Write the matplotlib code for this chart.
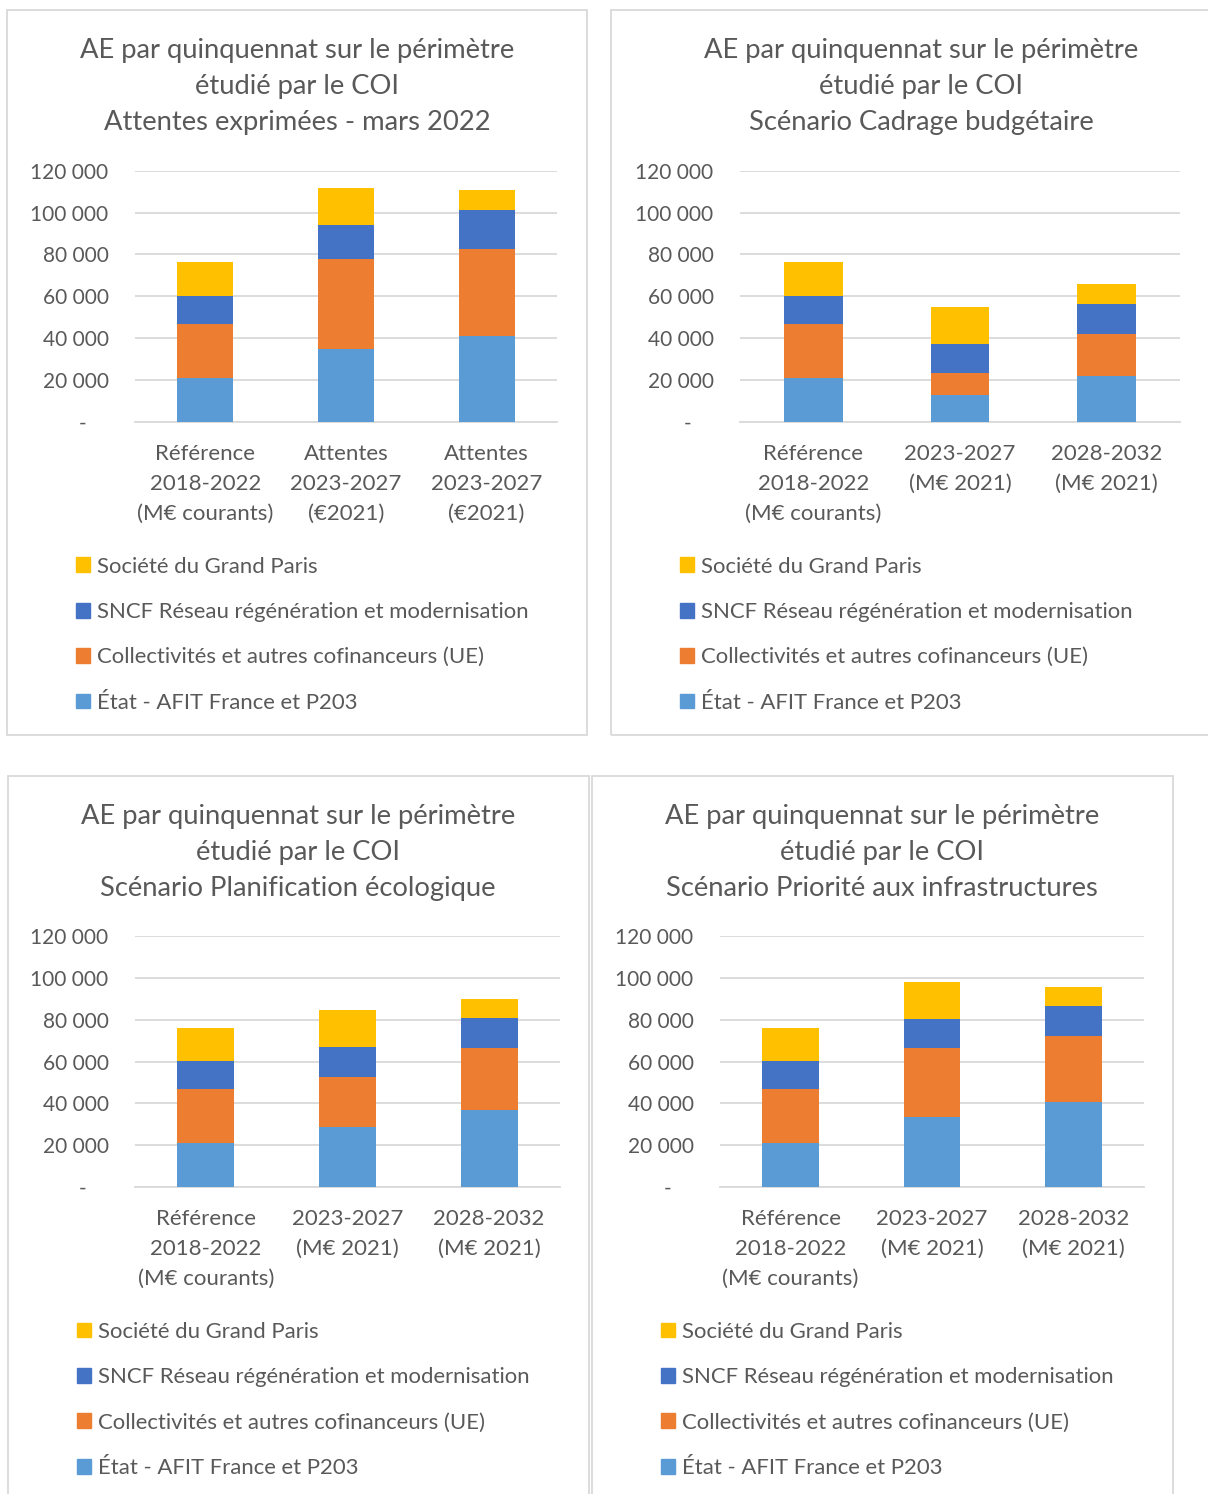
import matplotlib.pyplot as plt
from matplotlib.patches import Patch, Rectangle

plt.rcParams["font.family"] = ["Lato", "DejaVu Sans"]

W, H = 1208, 1494
TEXT = "#595959"
GRID = "#D9D9D9"

series = [
    "État - AFIT France et P203",
    "Collectivités et autres cofinanceurs (UE)",
    "SNCF Réseau régénération et modernisation",
    "Société du Grand Paris",
]
colors = ["#5B9BD5", "#ED7D31", "#4472C4", "#FFC000"]

title_head = "AE par quinquennat sur le périmètre\nétudié par le COI\n"
titles = [
    "Attentes exprimées - mars 2022",
    "Scénario Cadrage budgétaire",
    "Scénario Planification écologique",
    "Scénario Priorité aux infrastructures",
]

cats_attentes = ["Référence\n2018-2022\n(M€ courants)", "Attentes\n2023-2027\n(€2021)", "Attentes\n2023-2027\n(€2021)"]
cats_scen = ["Référence\n2018-2022\n(M€ courants)", "2023-2027\n(M€ 2021)", "2028-2032\n(M€ 2021)"]

# values (M€) per series: Etat, Collectivites, SNCF, SGP
attentes_etat = [21000, 34700, 41000]
attentes_coll = [25700, 43100, 41400]
attentes_sncf = [13500, 16400, 19000]
attentes_sgp = [16000, 17500, 9500]

cadrage_etat = [21000, 12600, 22000]
cadrage_coll = [25700, 10700, 19900]
cadrage_sncf = [13500, 14000, 14200]
cadrage_sgp = [16000, 17400, 9600]

planif_etat = [21000, 28700, 36800]
planif_coll = [25700, 24000, 29700]
planif_sncf = [13500, 14200, 14100]
planif_sgp = [16000, 17500, 9500]

infra_etat = [21000, 33600, 40800]
infra_coll = [25700, 32800, 31500]
infra_sncf = [13500, 14000, 14000]
infra_sgp = [16000, 17400, 9500]

yticks = [0, 20000, 40000, 60000, 80000, 100000, 120000]

charts = [
    dict(title=titles[0], cats=cats_attentes,
         data=[attentes_etat, attentes_coll, attentes_sncf, attentes_sgp],
         box=(7, 10, 587, 735), ax=(135, 557), top=170.7, cx=297),
    dict(title=titles[1], cats=cats_scen,
         data=[cadrage_etat, cadrage_coll, cadrage_sncf, cadrage_sgp],
         box=(611, 10, 1240, 735), ax=(740, 1180), top=170.7, cx=921),
    dict(title=titles[2], cats=cats_scen,
         data=[planif_etat, planif_coll, planif_sncf, planif_sgp],
         box=(8, 776, 589, 1520), ax=(135, 560), top=936, cx=298),
    dict(title=titles[3], cats=cats_scen,
         data=[infra_etat, infra_coll, infra_sncf, infra_sgp],
         box=(592, 776, 1173, 1520), ax=(720, 1144), top=936, cx=882),
]

fig = plt.figure(figsize=(W / 100, H / 100), dpi=100)


def fx(x):
    return x / W


def fy(y):
    return 1 - y / H


for c in charts:
    x0, y0, x1, y1 = c["box"]
    fig.patches.append(Rectangle((fx(x0), fy(y1)), fx(x1 - x0), (y1 - y0) / H,
                                 transform=fig.transFigure, fill=False,
                                 edgecolor=GRID, linewidth=1.3))
    fig.text(fx(c["cx"]), fy(y0 + 28), title_head + c["title"], ha="center", va="top",
             fontsize=19.7, color=TEXT, linespacing=1.545)

    top = c["top"]
    bottom = top + 251
    ax = fig.add_axes([fx(c["ax"][0]), fy(bottom), fx(c["ax"][1] - c["ax"][0]), (bottom - top) / H])
    xs = range(len(c["cats"]))
    base = [0, 0, 0]
    for vals, col, name in zip(c["data"], colors, series):
        ax.bar(xs, vals, width=0.4, bottom=base, color=col, label=name, zorder=3)
        base = [b + v for b, v in zip(base, vals)]

    ax.set_xlim(-0.5, 2.5)
    ax.set_ylim(0, 120000)
    ax.set_yticks(yticks)
    ax.set_yticklabels([f"{v:,.0f}".replace(",", " ") if v else "-    " for v in yticks])
    ax.set_xticks(list(xs))
    ax.set_xticklabels(c["cats"], linespacing=1.61, fontsize=16)
    ax.grid(axis="y", color=GRID, linewidth=1.3, zorder=0)
    ax.tick_params(length=0, colors=TEXT)
    ax.tick_params(axis="y", pad=19, labelsize=15)
    ax.tick_params(axis="x", pad=16)
    for s in ["top", "right", "left"]:
        ax.spines[s].set_visible(False)
    ax.spines["bottom"].set_color(GRID)
    ax.spines["bottom"].set_linewidth(1.3)
    ax.set_facecolor("none")

    handles = [Patch(color=col, label=name) for col, name in zip(colors, series)][::-1]
    fig.legend(handles=handles, loc="upper left",
               bbox_to_anchor=(fx(x0 + 60), fy(bottom + 126)), frameon=False,
               fontsize=15.9, labelcolor=TEXT, handlelength=0.65, handleheight=0.65,
               handletextpad=0.3, labelspacing=1.15, borderaxespad=0)

fig.savefig("out.png", dpi=100, facecolor="white")
